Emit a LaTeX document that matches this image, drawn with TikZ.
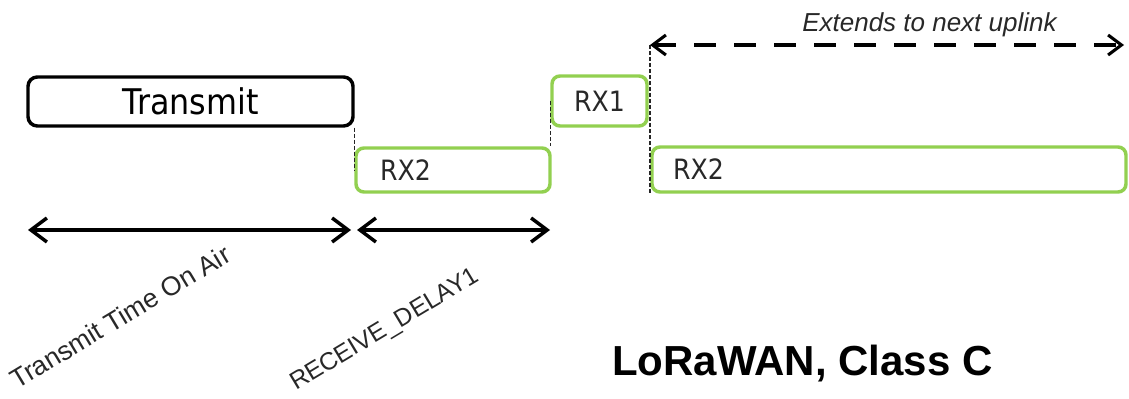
\documentclass[tikz,border=0pt]{standalone}
\usepackage{fontspec}
\setmainfont{Liberation Sans}
\newfontfamily\tah[FakeStretch=0.9]{DejaVu Sans}
\usetikzlibrary{arrows.meta}
\definecolor{rxgreen}{RGB}{146,208,80}
\definecolor{txtgray}{RGB}{40,40,40}
\tikzset{
  txbox/.style={draw=black, line width=2.6pt, rounded corners=7pt, inner sep=0pt,
    font=\tah\fontsize{26.5pt}{30pt}\selectfont, text=black},
  rxbox/.style={draw=rxgreen, line width=2.6pt, rounded corners=6pt, inner sep=0pt,
    font=\tah\fontsize{21pt}{24pt}\selectfont, text=txtgray},
  rxleft/.style={rxbox, align=left, inner ysep=0pt},
  guide/.style={draw=black!85, line width=1.1pt, dash pattern=on 3pt off 1.5pt},
  spanarrow/.style={line width=2.6pt, {Straight Barb[length=12pt,width=18pt,line width=2.6pt]}-{Straight Barb[length=12pt,width=18pt,line width=2.6pt]}},
  dasharrow/.style={line width=2.3pt, dash pattern=on 16.5pt off 13.5pt,
    {Straight Barb[length=10pt,width=15pt,line width=2.3pt]}-{Straight Barb[length=10pt,width=15pt,line width=2.3pt]}},
  rotlbl/.style={anchor=base west, rotate=31, inner sep=0pt, text=txtgray,
    font=\fontsize{18.5pt}{22pt}\selectfont},
}
\begin{document}
\begin{tikzpicture}[x=0.75pt,y=-0.75pt]
\useasboundingbox (0,0) rectangle (1129,399);
% boxes
\node[txbox, minimum width=243.75pt, minimum height=36.75pt] (tx) at (190.5,101.5) {Transmit};
\node[rxleft, text width=109.5pt, inner xsep=18pt, minimum height=33pt] (rx2a) at (453,170) {RX2};
\node[rxbox, minimum width=71.25pt, minimum height=37.5pt] (rx1) at (599.5,101) {RX1};
\node[rxleft, text width=324pt, inner xsep=15.75pt, minimum height=33.75pt] (rx2b) at (889,169.5) {RX2};
% dashed guides
\draw[guide] (tx.south east) -- (tx.south east |- rx2a.west);
\draw[guide] (rx1.west) -- (rx1.west |- rx2a.north);
\coordinate (dl) at (650,45);
\coordinate (dr) at (1124,45);
\draw[guide] (dl) -- (dl |- rx2b.south);
% extends arrow
\draw[dasharrow] (dl) -- (dr);
\node[anchor=base west, inner sep=0pt, text=txtgray, font=\itshape\fontsize{19.5pt}{22pt}\selectfont] (ext) at (802,32) {Extends to next uplink};
% span arrows
\coordinate (a1) at (28,230);
\coordinate (a2) at (351,230);
\coordinate (a3) at (357,230);
\coordinate (a4) at (550,230);
\draw[spanarrow] (a1) -- (a2);
\draw[spanarrow] (a3) -- (a4);
% rotated labels
\node[rotlbl, font=\fontsize{20pt}{24pt}\selectfont] (toa) at (17,390) {Transmit Time On Air};
\node[rotlbl] (rd1) at (296,391) {RECEIVE\_DELAY1};
% title
\node[anchor=base west, inner sep=0pt, font=\bfseries\fontsize{31.5pt}{36pt}\selectfont] (title) at (612,375) {LoRaWAN, Class C};
\end{tikzpicture}
\end{document}
